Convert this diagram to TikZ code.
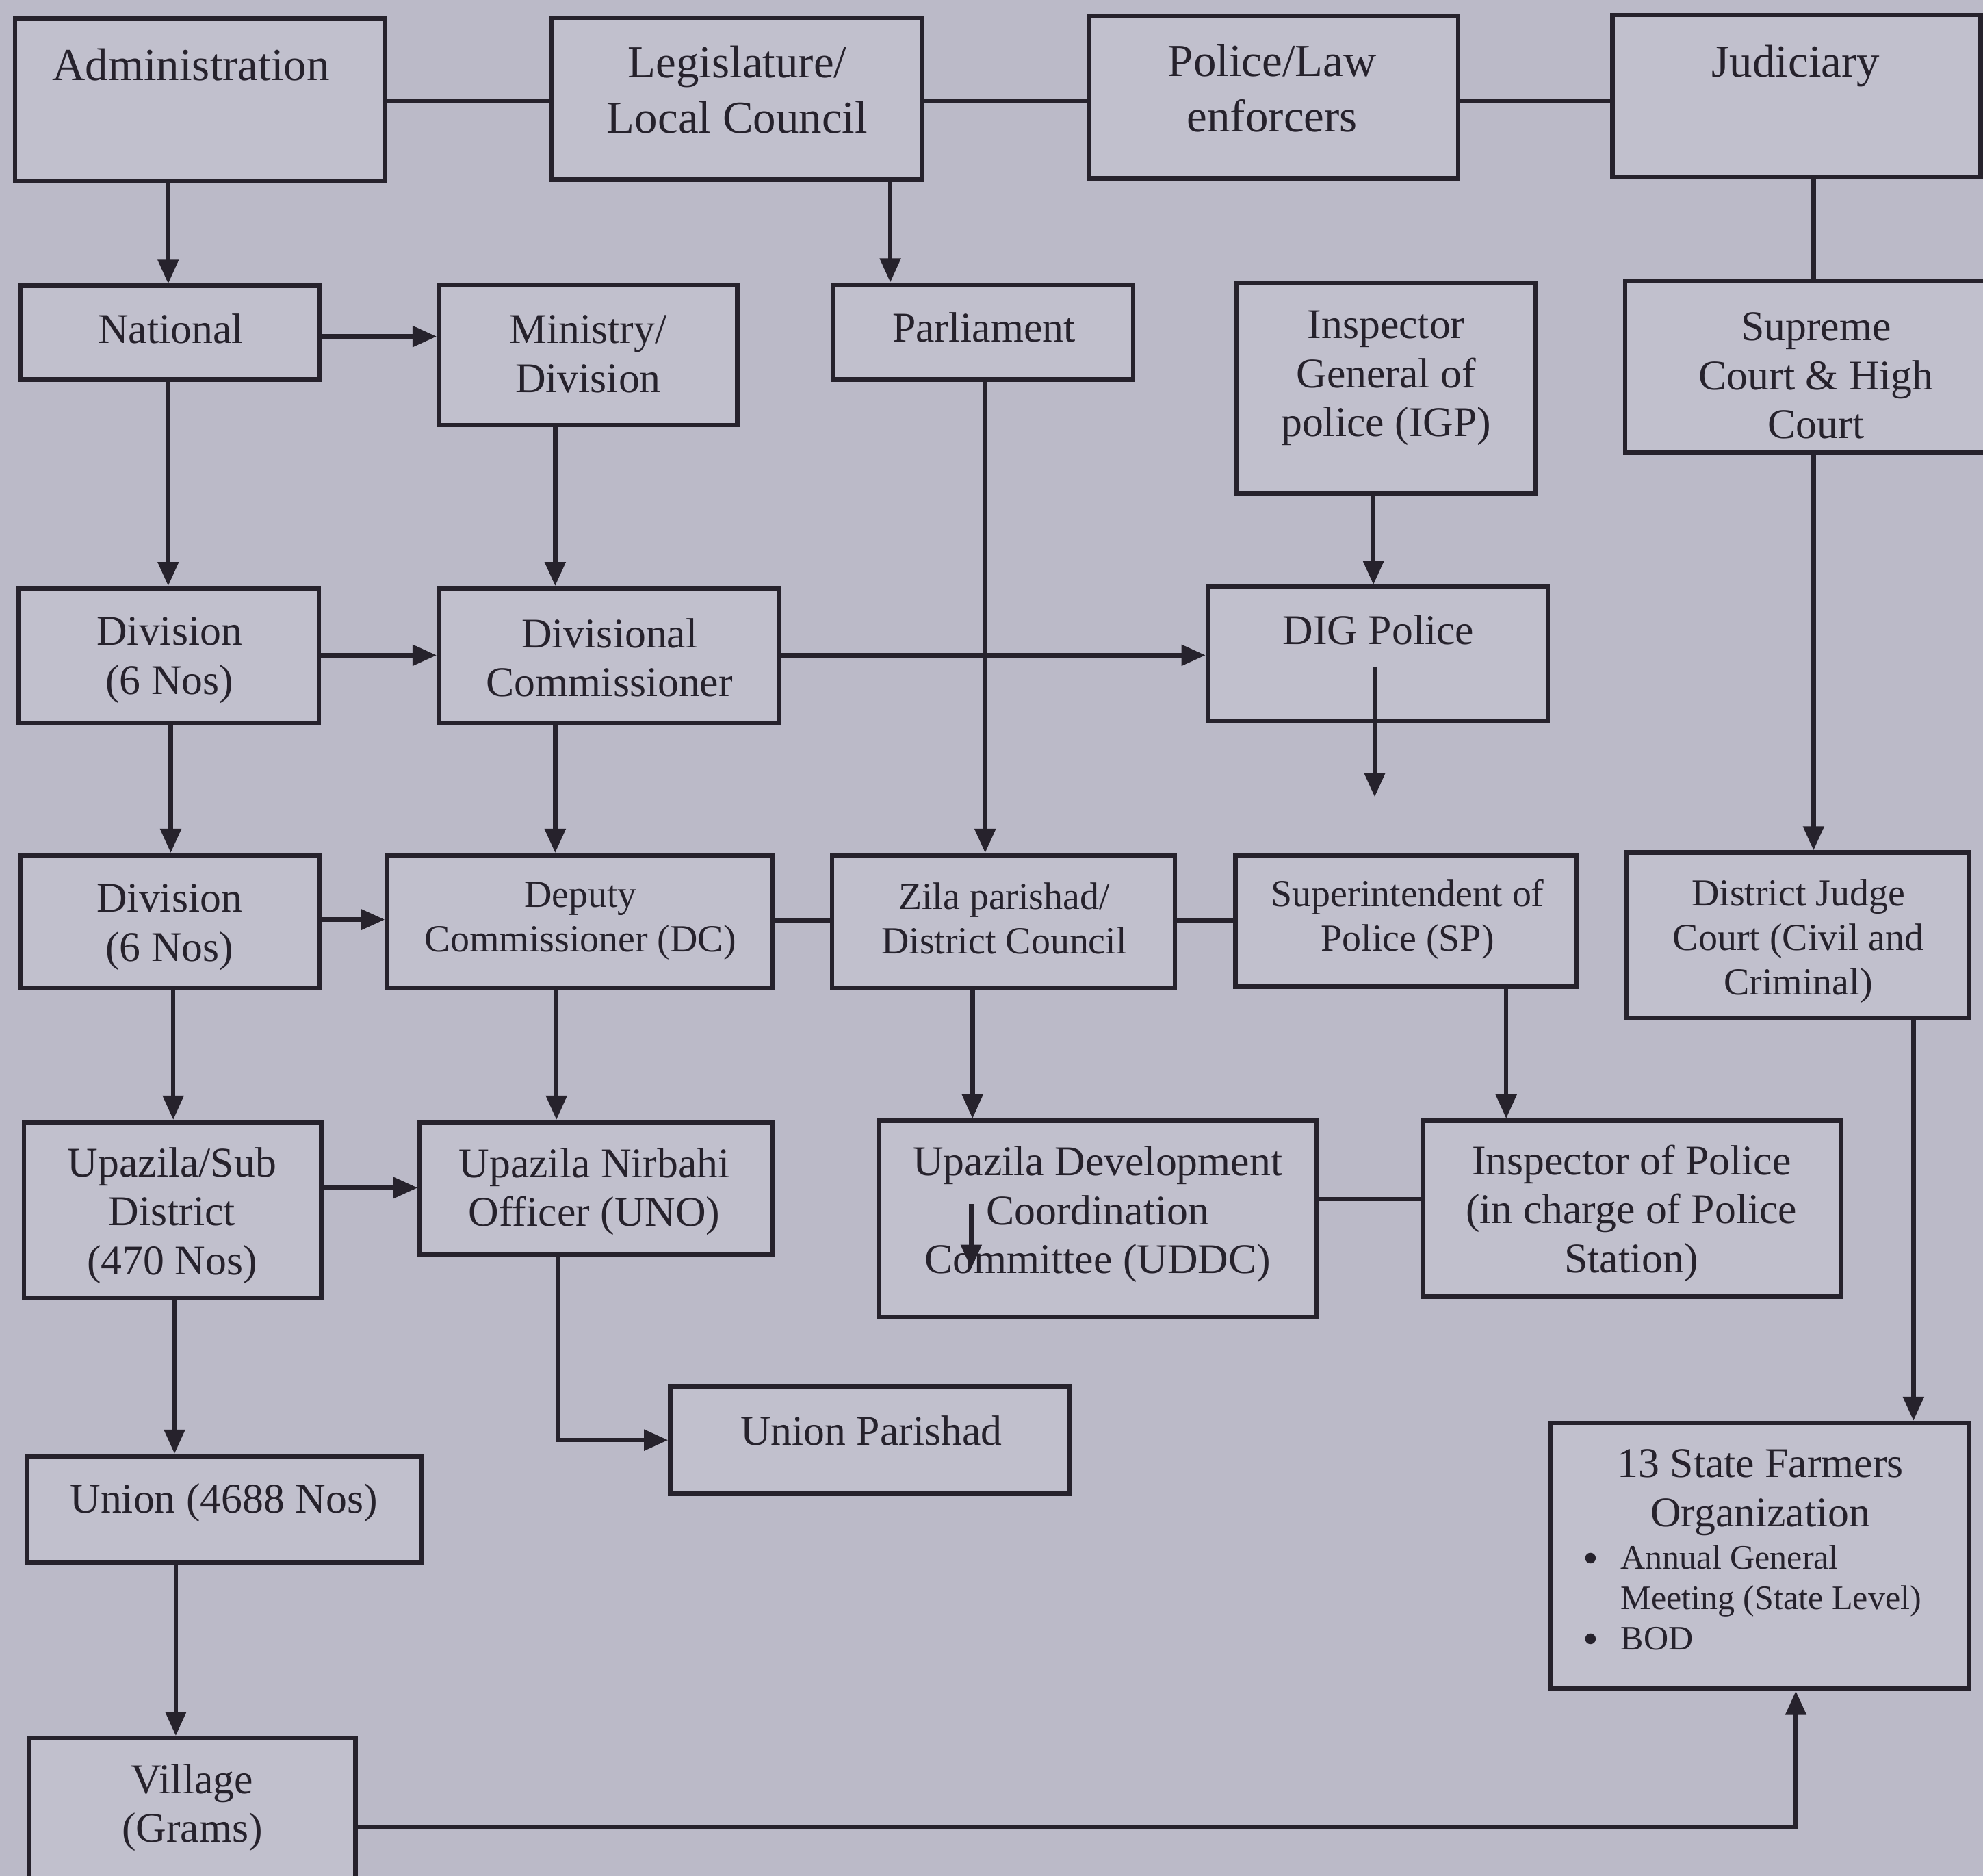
\documentclass[tikz,border=0pt]{standalone}
\usepackage{fontspec}
\setmainfont{Liberation Serif}
\usetikzlibrary{arrows.meta,fit}
\definecolor{bg}{RGB}{187,186,200}
\definecolor{boxfill}{RGB}{193,192,205}
\definecolor{ink}{RGB}{38,34,44}
\newcommand{\bigbul}{\raisebox{-0.9pt}{\fontsize{10}{9.1}\selectfont\textbullet}}
\begin{document}
\begin{tikzpicture}[x=0.01cm,y=-0.01cm,
  box/.style={draw=ink,line width=1pt,fill=boxfill,inner sep=0pt},
  lbl/.style={text=ink,align=center,inner sep=0pt,font=\fontsize{9.5}{11}\selectfont},
  big/.style={lbl,font=\fontsize{10.3}{12.5}\selectfont},
  small/.style={lbl,font=\fontsize{8.6}{10}\selectfont},
  con/.style={draw=ink,line width=1pt},
  arr/.style={con,-{Triangle[length=0.19cm,width=0.16cm]}}]
\useasboundingbox (0,0) rectangle (1568,1483);
\fill[bg] (0,0) rectangle (1568,1483);

% boxes
\node[box,fit={(12,15) (304,143)}] (adm) {};
\node[box,fit={(436,14) (729,142)}] (leg) {};
\node[box,fit={(861,13) (1153,141)}] (pol) {};
\node[box,fit={(1275,12) (1566,140)}] (jud) {};
\node[box,fit={(16,226) (253,300)}] (nat) {};
\node[box,fit={(347,225) (583,336)}] (min) {};
\node[box,fit={(659,225) (896,300)}] (parl) {};
\node[box,fit={(978,224) (1214,390)}] (igp) {};
\node[box,fit={(1285,222) (1578,358)}] (sup) {};
\node[box,fit={(15,465) (252,572)}] (div1) {};
\node[box,fit={(347,465) (616,572)}] (dcomm) {};
\node[box,fit={(955,464) (1224,570)}] (dig) {};
\node[box,fit={(16,676) (253,781)}] (div2) {};
\node[box,fit={(306,676) (611,781)}] (dc) {};
\node[box,fit={(658,676) (929,781)}] (zila) {};
\node[box,fit={(977,676) (1247,780)}] (sp) {};
\node[box,fit={(1286,674) (1557,805)}] (djc) {};
\node[box,fit={(19,887) (254,1026)}] (upz) {};
\node[box,fit={(332,887) (611,992)}] (uno) {};
\node[box,fit={(695,886) (1041,1041)}] (uddc) {};
\node[box,fit={(1125,886) (1456,1025)}] (iop) {};
\node[box,fit={(530,1096) (846,1181)}] (up) {};
\node[box,fit={(21,1151) (333,1235)}] (union) {};
\node[box,fit={(1226,1125) (1557,1335)}] (sfo) {};
\node[box,fit={(23,1374) (281,1514)}] (vil) {};

% labels
\node[big] (adm-t) at (151,51) {Administration};
\node[big] (leg-t) at (583,71) {Legislature/\\Local Council};
\node[big] (pol-t) at (1006,70) {Police/Law\\enforcers};
\node[big] (jud-t) at (1420,52) {Judiciary};
\node[lbl] (nat-t) at (135,260) {National};
\node[lbl] (min-t) at (465,280) {Ministry/\\Division};
\node[lbl] (parl-t) at (778,259) {Parliament};
\node[lbl] (igp-t) at (1096,299) {Inspector\\General of\\police (IGP)};
\node[lbl] (sup-t) at (1436,297) {Supreme\\Court \& High\\Court};
\node[lbl] (div1-t) at (134,522) {Division\\(6 Nos)};
\node[lbl] (dcomm-t) at (482,520) {Divisional\\Commissioner};
\node[lbl] (dig-t) at (1090,498) {DIG Police};
\node[lbl] (div2-t) at (134,733) {Division\\(6 Nos)};
\node[small] (dc-t) at (459,728) {Deputy\\Commissioner (DC)};
\node[small] (zila-t) at (794,726) {Zila parishad/\\District Council};
\node[small] (sp-t) at (1113,727) {Superintendent of\\Police (SP)};
\node[small] (djc-t) at (1422,744) {District Judge\\Court (Civil and\\Criminal)};
\node[lbl] (upz-t) at (136,961) {Upazila/Sub\\District\\(470 Nos)};
\node[lbl] (uno-t) at (470,942) {Upazila Nirbahi\\Officer (UNO)};
\node[lbl] (uddc-t) at (868,960) {Upazila Development\\Coordination\\Committee (UDDC)};
\node[lbl] (iop-t) at (1290,959) {Inspector of Police\\(in charge of Police\\Station)};
\node[lbl] (up-t) at (689,1131) {Union Parishad};
\node[lbl] (union-t) at (177,1188) {Union (4688 Nos)};
\node[lbl] (vil-t) at (152,1429) {Village\\(Grams)};
\node[lbl] (sfo-t) at (1392,1180) {13 State Farmers\\Organization};
\node[text=ink,inner sep=0pt,anchor=west,font=\fontsize{7.7}{9.1}\selectfont] (sfo-l) at (1251,1266)
  {\begin{tabular}{@{}l@{\hspace{5pt}}l@{}}\bigbul & Annual General\\ & Meeting (State Level)\\ \bigbul & BOD\end{tabular}};

% helper coordinates
\coordinate (r1) at (0,80);
\coordinate (x133) at (133,0);
\coordinate (x135) at (135,0);
\coordinate (x137) at (137,0);
\coordinate (x138) at (138,0);
\coordinate (x139) at (139,0);
\coordinate (x439) at (439,0);
\coordinate (x440) at (440,0);
\coordinate (x441) at (441,0);
\coordinate (x704) at (704,0);
\coordinate (x769) at (769,0);
\coordinate (x779) at (779,0);
\coordinate (x1086) at (1086,0);
\coordinate (x1191) at (1191,0);
\coordinate (x1420) at (1420,0);
\coordinate (x1434) at (1434,0);
\coordinate (x1513) at (1513,0);
\coordinate (y266) at (0,266);
\coordinate (y518) at (0,518);
\coordinate (y727) at (0,727);
\coordinate (y728) at (0,728);
\coordinate (y939) at (0,939);
\coordinate (y948) at (0,948);
\coordinate (digin) at (1087,527);
\coordinate (digout) at (1087,630);
\coordinate (uddcin) at (768,952);
\coordinate (uddcout) at (768,1003);

% connectors
\draw[con] (adm.east |- r1) -- (leg.west |- r1);
\draw[con] (leg.east |- r1) -- (pol.west |- r1);
\draw[con] (pol.east |- r1) -- (jud.west |- r1);
\draw[arr] (adm.south -| x133) -- (nat.north -| x133);
\draw[arr] (leg.south -| x704) -- (parl.north -| x704);
\draw[arr] (nat.east |- y266) -- (min.west |- y266);
\draw[con] (jud.south -| x1434) -- (sup.north -| x1434);
\draw[arr] (nat.south -| x133) -- (div1.north -| x133);
\draw[arr] (min.south -| x439) -- (dcomm.north -| x439);
\draw[arr] (igp.south -| x1086) -- (dig.north -| x1086);
\draw[arr] (parl.south -| x779) -- (zila.north -| x779);
\draw[arr] (div1.east |- y518) -- (dcomm.west |- y518);
\draw[arr] (dcomm.east |- y518) -- (dig.west |- y518);
\draw[arr] (digin) -- (digout);
\draw[arr] (div1.south -| x135) -- (div2.north -| x135);
\draw[arr] (div2.east |- y727) -- (dc.west |- y727);
\draw[arr] (dcomm.south -| x439) -- (dc.north -| x439);
\draw[con] (dc.east |- y728) -- (zila.west |- y728);
\draw[con] (zila.east |- y728) -- (sp.west |- y728);
\draw[arr] (sup.south -| x1434) -- (djc.north -| x1434);
\draw[arr] (div2.south -| x137) -- (upz.north -| x137);
\draw[arr] (dc.south -| x440) -- (uno.north -| x440);
\draw[arr] (zila.south -| x769) -- (uddc.north -| x769);
\draw[arr] (sp.south -| x1191) -- (iop.north -| x1191);
\draw[arr] (upz.east |- y939) -- (uno.west |- y939);
\draw[con] (uddc.east |- y948) -- (iop.west |- y948);
\draw[arr] (uddcin) -- (uddcout);
\draw[arr] (uno.south -| x441) |- (up.west);
\draw[arr] (upz.south -| x138) -- (union.north -| x138);
\draw[arr] (djc.south -| x1513) -- (sfo.north -| x1513);
\draw[arr] (union.south -| x139) -- (vil.north -| x139);
\draw[arr] (vil.east) -| (sfo.south -| x1420);
\end{tikzpicture}
\end{document}
